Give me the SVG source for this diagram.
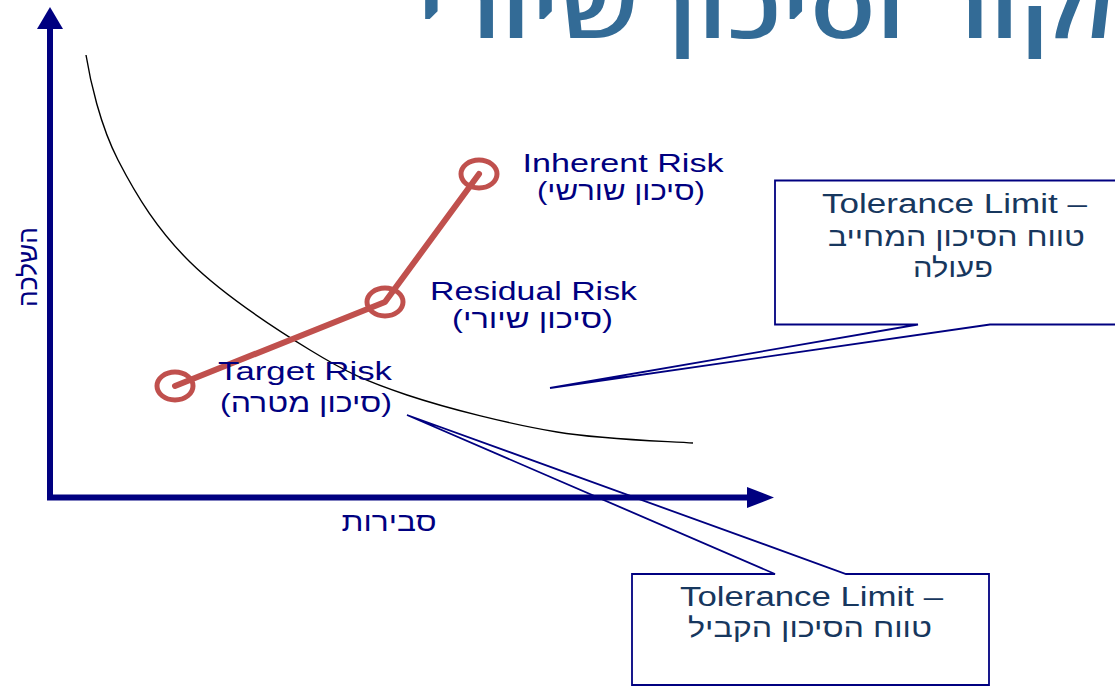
<svg xmlns="http://www.w3.org/2000/svg" width="1115" height="686" viewBox="0 0 1115 686">
  <style>
    .title{font-family:"Open Sans","DejaVu Sans",sans-serif;font-size:86px;font-weight:600;fill:#336B96}
    .lbl{font-family:"Liberation Sans",Arial,sans-serif;font-size:26px;fill:#000080}
    .boxtxt{font-family:"Liberation Sans",Arial,sans-serif;font-size:27px;fill:#17375E}
    .axis{fill:none;stroke:#000080;stroke-width:6;stroke-linejoin:miter}
    .head{fill:#000080}
    .curve{fill:none;stroke:#000;stroke-width:1.4}
    .path{fill:none;stroke:#C0504D;stroke-width:6;stroke-linecap:round;stroke-linejoin:round}
    .ring{fill:none;stroke:#C0504D;stroke-width:5}
    .callout{fill:none;stroke:#000080;stroke-width:1.8;stroke-linejoin:miter}
  </style>

  <!-- heading, runs off the top and right edges -->
  <g id="title">
    <text class="title" x="417" y="38" textLength="740" lengthAdjust="spacingAndGlyphs">מקור וסיכון שיורי</text>
  </g>

  <!-- axes -->
  <g id="axes">
    <polyline class="axis" points="50,28 50,497.5 748,497.5"/>
    <polygon class="head" points="37,29 63,29 50,7"/>
    <polygon class="head" points="747,487 747,508 774,497.5"/>
    <text class="lbl" transform="translate(37,267) rotate(-90)" text-anchor="middle" textLength="80" lengthAdjust="spacingAndGlyphs">השלכה</text>
    <text class="lbl" x="389" y="531" text-anchor="middle" textLength="95" lengthAdjust="spacingAndGlyphs">סבירות</text>
  </g>

  <!-- tolerance curve -->
  <g id="tolerance-curve">
    <path class="curve" d="M86,55 C90,80 100,125 118,160 C137.3,197.5 158.3,230.8 190,262 C221.7,293.2 273.8,327.8 310,350 C346.2,372.2 365.8,381.3 407,395 C448.2,408.7 509.3,424 557,432 C604.7,440 670.3,441.2 693,443"/>
  </g>

  <!-- risk path connecting the three risk points -->
  <g id="connectors">
    <polyline class="path" points="175,386 385,302 479,174"/>
  </g>

  <g id="inherent-risk">
    <ellipse class="ring" cx="479" cy="174" rx="18" ry="14"/>
    <text class="lbl" x="623" y="171.5" text-anchor="middle" textLength="201" lengthAdjust="spacingAndGlyphs">Inherent Risk</text>
    <text class="lbl" x="621" y="199.5" text-anchor="middle" textLength="168" lengthAdjust="spacingAndGlyphs">(סיכון שורשי)</text>
  </g>

  <g id="residual-risk">
    <ellipse class="ring" cx="385" cy="302" rx="18" ry="14"/>
    <text class="lbl" x="533.5" y="299.5" text-anchor="middle" textLength="207" lengthAdjust="spacingAndGlyphs">Residual Risk</text>
    <text class="lbl" x="532.5" y="327.5" text-anchor="middle" textLength="161" lengthAdjust="spacingAndGlyphs">(סיכון שיורי)</text>
  </g>

  <g id="target-risk">
    <ellipse class="ring" cx="175" cy="386" rx="18" ry="14"/>
    <text class="lbl" x="305" y="379.5" text-anchor="middle" textLength="174" lengthAdjust="spacingAndGlyphs">Target Risk</text>
    <text class="lbl" x="306" y="411.5" text-anchor="middle" textLength="172" lengthAdjust="spacingAndGlyphs">(סיכון מטרה)</text>
  </g>

  <!-- callout: action-required tolerance range -->
  <g id="tolerance-action">
    <path class="callout" d="M775,180.5 H1135 V324.5 H990 L550,388 L918,324.5 H775 Z"/>
    <text class="boxtxt" x="954.5" y="213" text-anchor="middle" textLength="265" lengthAdjust="spacingAndGlyphs">Tolerance Limit –</text>
    <text class="boxtxt" x="956.5" y="246" text-anchor="middle" textLength="257" lengthAdjust="spacingAndGlyphs">טווח הסיכון המחייב</text>
    <text class="boxtxt" x="953" y="277" text-anchor="middle" textLength="80" lengthAdjust="spacingAndGlyphs">פעולה</text>
  </g>

  <!-- callout: acceptable tolerance range -->
  <g id="tolerance-accept">
    <path class="callout" d="M632,574 H775 L407,415 L846,574 H989 V685 H632 Z"/>
    <text class="boxtxt" x="811.5" y="605.5" text-anchor="middle" textLength="263" lengthAdjust="spacingAndGlyphs">Tolerance Limit –</text>
    <text class="boxtxt" x="810" y="637" text-anchor="middle" textLength="244" lengthAdjust="spacingAndGlyphs">טווח הסיכון הקביל</text>
  </g>
</svg>
